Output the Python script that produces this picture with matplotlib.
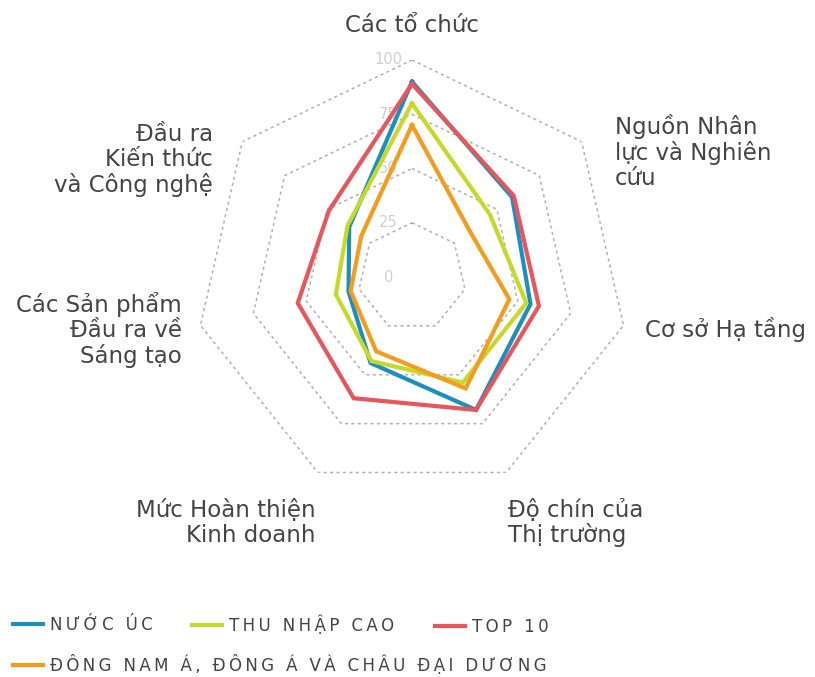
import numpy as np
import matplotlib

matplotlib.use("Agg")
import matplotlib.pyplot as plt

# --- data ---
categories = [
    "Các tổ chức",
    "Nguồn Nhân\nlực và Nghiên\ncứu",
    "Cơ sở Hạ tầng",
    "Độ chín của\nThị trường",
    "Mức Hoàn thiện\nKinh doanh",
    "Các Sản phẩm\nĐầu ra về\nSáng tạo",
    "Đầu ra\nKiến thức\nvà Công nghệ",
]
australia = [90, 59, 56, 68, 44, 30, 37]
high_income = [80, 46, 54, 54, 43, 36, 38]
top10 = [89, 60, 60, 68, 62, 54, 49]
sea_oceania = [70, 34, 46, 57, 38, 29, 30]
ring_ticks = [0, 25, 50, 75, 100]

series_names = ["NƯỚC ÚC", "THU NHẬP CAO", "TOP 10", "ĐÔNG NAM Á, ĐÔNG Á VÀ CHÂU ĐẠI DƯƠNG"]
colors = ["#1a8fc0", "#c6d92a", "#e8555a", "#f59b1e"]


def tracked(s):
    # wide letter spacing like the reference legend (thin space between glyphs)
    return "\u2009".join(s)


W, H = 815, 677
fig = plt.figure(figsize=(W / 100, H / 100), dpi=100)

# polar axes centred at (412, 277) px, radius 217 px for value 100
cx, cy, R = 412, 277, 217
ax = fig.add_axes([(cx - R) / W, (H - cy - R) / H, 2 * R / W, 2 * R / H], projection="polar")
ax.set_theta_offset(np.pi / 2)
ax.set_theta_direction(-1)
ax.set_ylim(0, 100)
ax.grid(False)
ax.set_xticks([])
ax.set_yticks([])
ax.spines["polar"].set_visible(False)

n = len(categories)
angles = np.linspace(0, 2 * np.pi, n, endpoint=False)
closed = np.append(angles, angles[0])

# heptagon grid (straight edges between vertices)
for r in ring_ticks[1:]:
    ax.plot(closed, [r] * (n + 1), color="#b0b0b0", lw=1.1, ls=(0, (2, 2.2)), zorder=1)

# radial tick labels along the top spoke
for r in ring_ticks:
    ax.annotate(str(r), xy=(0, r), xytext=(-17, 0), textcoords="offset points",
                ha="center", va="center", fontsize=10.5, color="#cfcfcf", zorder=2)

lines = []
for vals, color in zip([australia, high_income, top10, sea_oceania], colors):
    v = np.append(vals, vals[0])
    (ln,) = ax.plot(closed, v, color=color, lw=3, solid_joinstyle="miter", zorder=3)
    lines.append(ln)

# category labels
label_pos = [
    (412, 25, "center"),
    (615, 152, "left"),
    (645, 330, "left"),
    (508, 523, "left"),
    (316, 523, "right"),
    (182, 330, "right"),
    (213, 160, "right"),
]
for text, (x, y, ha) in zip(categories, label_pos):
    fig.text(x / W, 1 - y / H, text, ha=ha, va="center", fontsize=16.5,
             color="#444444", linespacing=1.1)

# legend: one small legend per entry, laid out like the reference
legend_pos = [(13, 625), (192, 625), (435, 627), (13, 665)]
for ln, name, (x, y) in zip(lines, series_names, legend_pos):
    fig.legend([ln], [tracked(name)], loc="center left", bbox_to_anchor=(x / W, 1 - y / H),
               frameon=False, fontsize=12, handlelength=1.8, handletextpad=0.4,
               borderpad=0, borderaxespad=0, labelcolor="#444444")

fig.savefig("out.png", dpi=100)
